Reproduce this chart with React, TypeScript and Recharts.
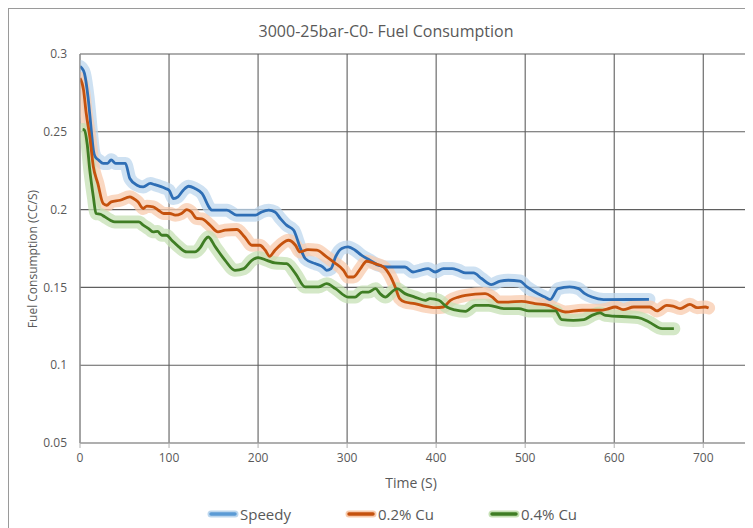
import React from "react";
import {
  LineChart,
  Line,
  XAxis,
  YAxis,
  CartesianGrid,
  Legend,
  ReferenceLine,
  Customized,
} from "recharts";

// ---------- data ----------
const speedyTime = [0, 2, 5, 9, 13, 15, 17, 21, 26, 31, 35, 40, 51, 56, 64, 71, 79, 84, 96, 100, 105, 110, 116, 122, 129, 137, 146, 148, 165, 176, 197, 204, 212, 219, 225, 232, 240, 247, 253, 264, 273, 277, 282, 287, 294, 301, 309, 316, 326, 335, 345, 354, 365, 374, 382, 391, 399, 408, 418, 425, 433, 442, 451, 462, 472, 481, 494, 502, 511, 522, 528, 537, 550, 560, 567, 575, 588, 639];
const speedyValues = [0.292, 0.291, 0.2876, 0.2725, 0.249, 0.2382, 0.234, 0.2318, 0.2297, 0.2297, 0.232, 0.2297, 0.2297, 0.22, 0.2157, 0.2146, 0.2168, 0.216, 0.2136, 0.2125, 0.2071, 0.2082, 0.2125, 0.215, 0.2136, 0.2104, 0.2007, 0.1996, 0.1996, 0.1964, 0.1964, 0.1985, 0.1996, 0.1985, 0.1943, 0.19, 0.1867, 0.176, 0.1685, 0.1653, 0.1631, 0.161, 0.1621, 0.1696, 0.175, 0.176, 0.1739, 0.1707, 0.1674, 0.1642, 0.1631, 0.1631, 0.1631, 0.1599, 0.161, 0.1621, 0.1599, 0.1621, 0.1621, 0.161, 0.1593, 0.1593, 0.1557, 0.1518, 0.1541, 0.1546, 0.1541, 0.1503, 0.147, 0.1438, 0.1422, 0.1492, 0.1503, 0.1492, 0.146, 0.1438, 0.1422, 0.1423];

const cu02Time = [0, 4, 7, 11, 15, 20, 26, 30, 35, 45, 56, 60, 65, 71, 75, 82, 88, 94, 101, 107, 114, 120, 125, 131, 137, 146, 155, 163, 176, 185, 193, 202, 208, 213, 219, 227, 234, 242, 247, 256, 266, 277, 286, 296, 301, 307, 315, 322, 331, 341, 348, 354, 359, 365, 376, 388, 399, 408, 416, 425, 433, 455, 463, 470, 481, 496, 511, 526, 534, 545, 564, 573, 584, 592, 601, 610, 622, 640, 648, 659, 666, 674, 685, 693, 702, 706];
const cu02Values = [0.2844, 0.2768, 0.2618, 0.2468, 0.2275, 0.2168, 0.2039, 0.2028, 0.205, 0.206, 0.2082, 0.2071, 0.205, 0.2007, 0.2022, 0.2018, 0.1996, 0.1975, 0.1975, 0.1964, 0.1975, 0.2, 0.1985, 0.1943, 0.194, 0.19, 0.1857, 0.1868, 0.1872, 0.1824, 0.1771, 0.1771, 0.1739, 0.17, 0.1739, 0.1782, 0.1803, 0.1771, 0.1728, 0.1743, 0.1739, 0.1696, 0.1658, 0.161, 0.1567, 0.1567, 0.1621, 0.1668, 0.1653, 0.1631, 0.1578, 0.1503, 0.1428, 0.1406, 0.1396, 0.1378, 0.137, 0.1374, 0.1417, 0.1438, 0.1449, 0.146, 0.1438, 0.1406, 0.1406, 0.141, 0.1396, 0.1385, 0.1364, 0.1342, 0.1353, 0.1353, 0.1353, 0.136, 0.1374, 0.1357, 0.1374, 0.1374, 0.1349, 0.1385, 0.138, 0.1364, 0.1391, 0.137, 0.1374, 0.1368];

const cu04Time = [3, 5, 8, 11, 15, 18, 23, 28, 34, 39, 66, 71, 77, 82, 87, 92, 97, 103, 111, 120, 129, 135, 140, 144, 152, 163, 174, 184, 193, 200, 210, 219, 232, 242, 253, 268, 277, 287, 301, 309, 317, 324, 332, 337, 343, 350, 356, 365, 376, 388, 393, 403, 412, 421, 433, 444, 459, 476, 493, 504, 534, 541, 554, 566, 575, 584, 590, 627, 639, 654, 667];
const cu04Values = [0.2515, 0.2511, 0.2425, 0.2254, 0.2082, 0.1975, 0.197, 0.1953, 0.1932, 0.1921, 0.1921, 0.19, 0.1878, 0.1857, 0.186, 0.1835, 0.1835, 0.1803, 0.176, 0.1728, 0.1728, 0.1755, 0.1803, 0.1824, 0.176, 0.1674, 0.161, 0.1621, 0.1674, 0.1692, 0.1674, 0.1657, 0.1653, 0.1589, 0.1503, 0.1503, 0.1524, 0.1492, 0.1438, 0.1438, 0.147, 0.147, 0.1492, 0.146, 0.1438, 0.147, 0.1492, 0.146, 0.1438, 0.1417, 0.1428, 0.1417, 0.1374, 0.1355, 0.1346, 0.1385, 0.1385, 0.1364, 0.1364, 0.1349, 0.1349, 0.1293, 0.1288, 0.1293, 0.132, 0.1336, 0.132, 0.1306, 0.1278, 0.1235, 0.1235];

const seriesNames = ["Speedy", "0.2% Cu", "0.4% Cu"];
const xTicks = [0, 100, 200, 300, 400, 500, 600, 700];
const yTicks = [0.05, 0.1, 0.15, 0.2, 0.25, 0.3];
const xMax = 748;

// ---------- styles ----------
const lineColors = ["#2E6EB5", "#C5520E", "#3F7D24"];
const glowColors = ["#BDD7EE", "#F8CBAD", "#C5E0B4"];
const textColor = "#595959";
const gridColor = "#5f5f5f";
const font = "'Open Sans', sans-serif";

const toPoints = (t: number[], v: number[]) => t.map((x, i) => ({ time: x, value: v[i] }));
const seriesData = [
  toPoints(speedyTime, speedyValues),
  toPoints(cu02Time, cu02Values),
  toPoints(cu04Time, cu04Values),
];

const renderLegend = () => (
  <div style={{ display: "flex", alignItems: "center", fontFamily: font, fontSize: 15, color: textColor }}>
    {seriesNames.map((n, i) => (
      <div key={n} style={{ display: "flex", alignItems: "center", marginRight: i < 2 ? 54 : 0 }}>
        <svg width={32} height={10} style={{ display: "block" }}>
          <line x1={4} y1={5} x2={28} y2={5} stroke={glowColors[i]} strokeWidth={7} strokeLinecap="round" />
          <line x1={4} y1={5} x2={28} y2={5} stroke={i === 0 ? "#5B9BD5" : lineColors[i]} strokeWidth={3.5} strokeLinecap="round" />
        </svg>
        <span style={{ marginLeft: 1 }}>{n}</span>
      </div>
    ))}
  </div>
);

const Texts = () => (
  <g fontFamily={font} fill={textColor}>
    <text x={377} y={22} textAnchor="middle" dominantBaseline="central" fontSize={16}>
      3000-25bar-C0- Fuel Consumption
    </text>
    <text
      x={23}
      y={250}
      textAnchor="middle"
      dominantBaseline="central"
      fontSize={12}
      transform="rotate(-90 23 250)"
    >
      Fuel Consumption (CC/S)
    </text>
    <text x={402} y={473} textAnchor="middle" dominantBaseline="central" fontSize={14}>
      Time (S)
    </text>
  </g>
);

export default function App() {
  return (
    <div style={{ width: 745, height: 520, borderLeft: "1px solid #9a9a9a", borderTop: "1px solid #9a9a9a", boxSizing: "border-box", background: "#fff" }}>
      <LineChart width={744} height={519} margin={{ top: 45, right: 7, bottom: 35, left: 31 }}>
        <CartesianGrid stroke={gridColor} strokeWidth={1.1} />
        <XAxis
          dataKey="time"
          type="number"
          domain={[0, xMax]}
          ticks={xTicks}
          allowDataOverflow
          stroke="#b0b0b0"
          tickSize={5}
          tickMargin={5}
          tick={{ fill: textColor, fontSize: 12, fontFamily: font }}
          height={30}
        />
        <YAxis
          type="number"
          domain={[0.05, 0.3]}
          ticks={yTicks}
          allowDataOverflow
          stroke="#a0a0a0"
          tickSize={0}
          tickMargin={13}
          tick={{ fill: textColor, fontSize: 12, fontFamily: font }}
          width={40}
        />
        <ReferenceLine x={xMax} stroke={gridColor} strokeWidth={1.1} />
        {seriesData.map((d, i) => (
          <Line
            key={"glow" + i}
            data={d}
            dataKey="value"
            type="monotone"
            stroke={glowColors[i]}
            strokeWidth={13}
            strokeOpacity={0.75}
            strokeLinecap="round"
            strokeLinejoin="round"
            dot={false}
            activeDot={false}
            legendType="none"
            isAnimationActive={false}
          />
        ))}
        {seriesData.map((d, i) => (
          <Line
            key={"line" + i}
            data={d}
            dataKey="value"
            name={seriesNames[i]}
            type="monotone"
            stroke={lineColors[i]}
            strokeWidth={2.8}
            strokeLinejoin="round"
            dot={false}
            activeDot={false}
            isAnimationActive={false}
          />
        ))}
        <Legend
          verticalAlign="bottom"
          content={renderLegend}
          wrapperStyle={{ left: 198, top: 495, bottom: "auto", width: "auto", height: 20 }}
        />
        <Customized component={Texts} />
      </LineChart>
    </div>
  );
}
